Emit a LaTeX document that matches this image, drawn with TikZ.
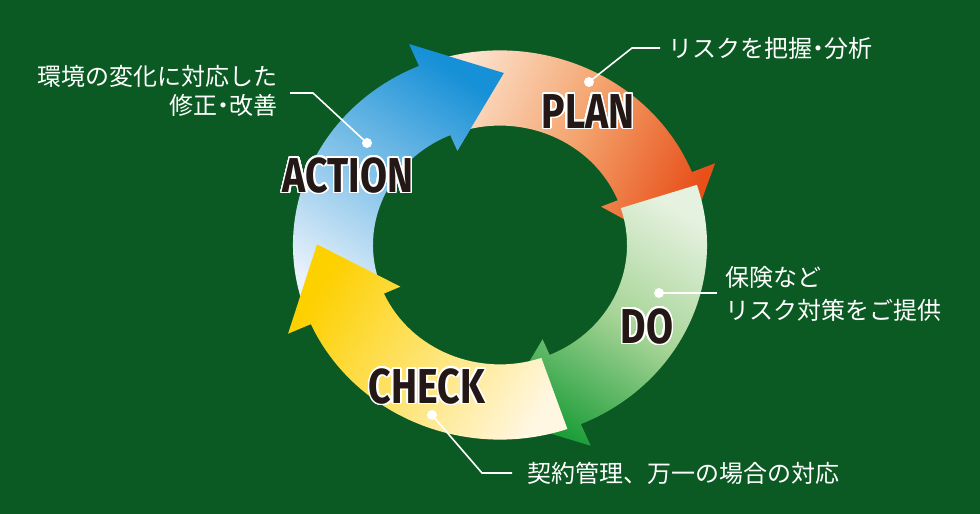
\documentclass[tikz,border=0pt]{standalone}
\usepackage{fontspec}
\usepackage[copies]{contour}
\newfontfamily\jp{Noto Sans CJK JP}
\newfontfamily\headfont{Fira Sans}[FakeStretch=0.8]
\contourlength{1.6pt}
\contournumber{32}
\newcommand\middot{\kern-0.25em・\kern-0.25em}
\definecolor{bg}{HTML}{0B5A23}
\definecolor{ink}{HTML}{231815}
\definecolor{planL}{HTML}{FCE4D0}
\definecolor{planM}{HTML}{F4A46E}
\definecolor{planD}{HTML}{E8501A}
\definecolor{doL}{HTML}{E6F2E0}
\definecolor{doM}{HTML}{A6D496}
\definecolor{doD}{HTML}{1E9E3A}
\definecolor{chkL}{HTML}{FFF7E2}
\definecolor{chkD}{HTML}{FDD000}
\definecolor{actL}{HTML}{EAF2FB}
\definecolor{actD}{HTML}{1690D6}
\begin{document}
\begin{tikzpicture}[x=1pt,y=1pt,
  lead/.style={draw=white, line width=1.6pt},
  leaddot/.style={circle, fill=white, inner sep=0pt, minimum size=10pt},
  jplabel/.style={text=white, inner sep=0pt},
  phase/.style={font=\headfont\bfseries\fontsize{49}{49}\selectfont, text=ink, inner sep=0pt}]
\useasboundingbox (0,0) rectangle (980,514);
\fill[bg] (0,0) rectangle (980,514);

\begin{scope}[shift={(500,269)}, yscale=0.94]
% ACTION
\shade[top color=actD, bottom color=actL, shading angle=-32.5]
  (200:207pt) arc[start angle=200, end angle=113, radius=207pt] -- (113:232pt) -- (88.8:183pt) -- (113:109pt) -- (113:127pt) arc[start angle=113, end angle=200, radius=127pt] -- cycle;
% PLAN
\shade[top color=planD, bottom color=planL, middle color=planM, shading angle=-115]
  (109:207pt) arc[start angle=109, end angle=22, radius=207pt] -- (22:232pt) -- (-2.2:183pt) -- (22:109pt) -- (22:127pt) arc[start angle=22, end angle=109, radius=127pt] -- cycle;
% DO
\shade[top color=doD, bottom color=doL, middle color=doM, shading angle=-212.5]
  (18:207pt) arc[start angle=18, end angle=-67, radius=207pt] -- (-67:232pt) -- (-91.2:183pt) -- (-67:109pt) -- (-67:127pt) arc[start angle=-67, end angle=18, radius=127pt] -- cycle;
% CHECK
\shade[top color=chkD, bottom color=chkL, shading angle=57.5]
  (-71:207pt) arc[start angle=-71, end angle=-156, radius=207pt] -- (-156:232pt) -- (-180.2:183pt) -- (-156:109pt) -- (-156:127pt) arc[start angle=-156, end angle=-71, radius=127pt] -- cycle;
% ACTION arrowhead again, on top of the PLAN start
\begin{scope}
\clip (113:232pt) -- (88.8:183pt) -- (113:109pt) -- cycle;
\shade[top color=actD, bottom color=actL, shading angle=-32.5]
  (200:207pt) arc[start angle=200, end angle=113, radius=207pt] -- (113:232pt) -- (88.8:183pt) -- (113:109pt) -- (113:127pt) arc[start angle=113, end angle=200, radius=127pt] -- cycle;
\end{scope}
\end{scope}

% phase words
\node[phase] (plan) at (588,402) {\contour{white}{PLAN}};
\node[phase] (act) at (348,338) {\contour{white}{ACTION}};
\node[phase] (do) at (647,187) {\contour{white}{DO}};
\node[phase] (chk) at (427,127) {\contour{white}{CHECK}};

% PLAN note
\node[leaddot] (dplan) at (589,432) {};
\coordinate (kplan) at (632,466);
\coordinate (eplan) at (660,466);
\node[jplabel, anchor=west, font=\jp\fontsize{24}{29}\selectfont] (tplan) at (668,466) {リスクを把握\middot 分析};
\draw[lead] (dplan.center) -- (kplan) -- (eplan);

% ACTION note
\node[leaddot] (dact) at (367,371) {};
\coordinate (kact) at (313,421);
\coordinate (eact) at (290,421);
\node[jplabel, anchor=east, align=right, font=\jp\fontsize{24}{29}\selectfont] (tact) at (278,423.5) {環境の変化に対応した\\修正\middot 改善};
\draw[lead] (dact.center) -- (kact) -- (eact);

% DO note
\node[leaddot] (ddo) at (659,221) {};
\coordinate (edo) at (717,221);
\node[jplabel, anchor=west, align=left, font=\jp\fontsize{24}{32.5}\selectfont] (tdo) at (725,220.3) {保険など\\リスク対策をご提供};
\draw[lead] (ddo.center) -- (edo);

% CHECK note
\node[leaddot] (dchk) at (432,99) {};
\coordinate (kchk) at (482,41);
\coordinate (echk) at (512,41);
\node[jplabel, anchor=west, font=\jp\fontsize{24}{29}\selectfont] (tchk) at (527,41) {契約管理、万一の場合の対応};
\draw[lead] (dchk.center) -- (kchk) -- (echk);
\end{tikzpicture}
\end{document}
